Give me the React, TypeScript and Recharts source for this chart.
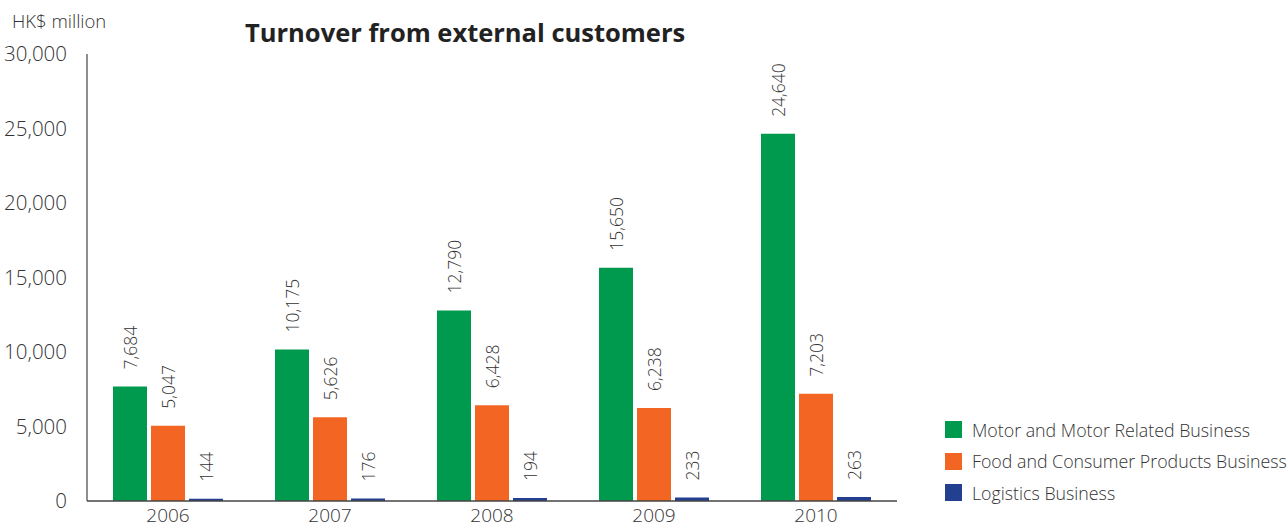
import { BarChart, Bar, XAxis, YAxis } from "recharts";

const years = ["2006", "2007", "2008", "2009", "2010"];
const motor = [7684, 10175, 12790, 15650, 24640];
const food = [5047, 5626, 6428, 6238, 7203];
const logistics = [144, 176, 194, 233, 263];
const yTicks = [0, 5000, 10000, 15000, 20000, 25000, 30000];

const series = [
  { key: "motor", name: "Motor and Motor Related Business", color: "#009a4e" },
  { key: "food", name: "Food and Consumer Products Business", color: "#f26522" },
  { key: "logistics", name: "Logistics Business", color: "#233f8f" },
];

const data = years.map((year, i) => ({
  year,
  motor: motor[i],
  food: food[i],
  logistics: logistics[i],
}));

const FONT = "'Open Sans', sans-serif";
const fmt = (v: number) => v.toLocaleString("en-US");

// rotated value label sitting above each bar
function ValueLabel(props: any) {
  const { x, y, width, value } = props;
  const cx = x + width / 2;
  const ty = y - 17;
  return (
    <text
      x={cx}
      y={ty}
      transform={`rotate(-90, ${cx}, ${ty})`}
      textAnchor="start"
      dominantBaseline="central"
      fontSize={17.5}
      fill="#333"
      fontFamily={FONT}
      fontWeight={300}
    >
      {fmt(value)}
    </text>
  );
}

function LegendBox() {
  return (
    <div
      style={{
        position: "absolute",
        left: 945,
        top: 414,
        fontFamily: FONT,
        fontWeight: 300,
        fontSize: 17.8,
        color: "#333",
        whiteSpace: "nowrap",
      }}
    >
      {series.map((s) => (
        <div key={s.key} style={{ display: "flex", alignItems: "center", height: 31.5 }}>
          <span style={{ width: 17, height: 17, background: s.color, marginRight: 10, display: "inline-block" }} />
          {s.name}
        </div>
      ))}
    </div>
  );
}

export default function App() {
  return (
    <div style={{ position: "relative", width: 1288, height: 528, background: "#fff", overflow: "hidden" }}>
      <style>{`body{margin:0}`}</style>
      <div
        style={{
          position: "absolute",
          left: 12,
          top: 8,
          fontFamily: FONT,
          fontWeight: 300,
          fontSize: 18.5,
          color: "#333",
        }}
      >
        HK$ million
      </div>
      <div
        style={{
          position: "absolute",
          left: 245,
          top: 15,
          fontFamily: FONT,
          fontWeight: 700,
          fontSize: 25.5,
          color: "#222",
        }}
      >
        Turnover from external customers
      </div>
      <BarChart
        width={1288}
        height={528}
        data={data}
        margin={{ top: 54, right: 391, left: 0, bottom: 0 }}
        barCategoryGap={26}
        barGap={4}
      >
        <XAxis
          dataKey="year"
          height={27}
          tickLine={false}
          axisLine={{ stroke: "#444", strokeWidth: 1.5 }}
          tick={{ fontSize: 19, fill: "#333", fontFamily: FONT, fontWeight: 300 }}
          tickMargin={2}
        />
        <YAxis
          width={87}
          domain={[0, 30000]}
          ticks={yTicks}
          interval={0}
          tickLine={false}
          axisLine={{ stroke: "#444", strokeWidth: 1.2 }}
          tick={{ fontSize: 20.5, fill: "#333", fontFamily: FONT, fontWeight: 300 }}
          tickFormatter={fmt}
          tickMargin={14}
        />
        {series.map((s) => (
          <Bar
            key={s.key}
            dataKey={s.key}
            name={s.name}
            fill={s.color}
            isAnimationActive={false}
            label={<ValueLabel />}
          />
        ))}
      </BarChart>
      <LegendBox />
    </div>
  );
}
